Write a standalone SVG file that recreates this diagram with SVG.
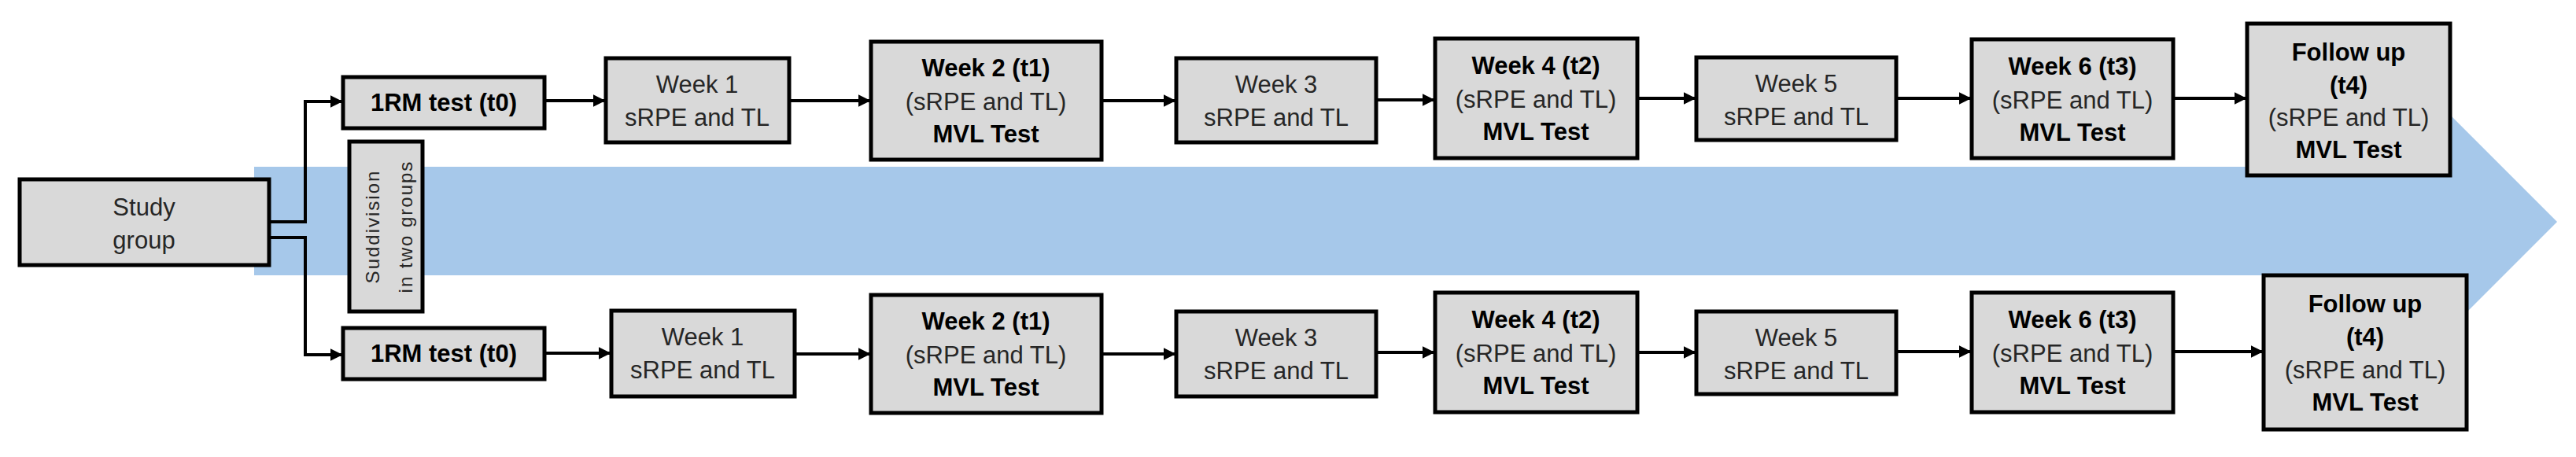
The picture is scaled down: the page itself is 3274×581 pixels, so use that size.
<svg xmlns="http://www.w3.org/2000/svg" width="3274" height="581" viewBox="0 0 3274 581">
<style>
.b{fill:#d9d9d9;stroke:#000;stroke-width:5}
text{font-family:"Liberation Sans",Arial,sans-serif;font-size:31px;text-anchor:middle;fill:#262626}
.bd{font-weight:bold;fill:#000}
.c{fill:none;stroke:#000;stroke-width:4}
</style>
<defs><marker id="a" viewBox="0 0 10 10" refX="9" refY="5" markerWidth="4" markerHeight="4" orient="auto" markerUnits="strokeWidth"><path d="M0,0L10,5L0,10z" fill="#000"/></marker></defs>
<polygon points="323,212 3090,212 3090,122 3250,282 3090,442 3090,350 323,350" fill="#a6c8ea"/>
<g id="study"><rect class="b" x="25" y="228" width="317" height="109"/><text x="183" y="274">Study</text><text x="183" y="316">group</text></g>
<g id="sub"><rect class="b" x="444" y="180" width="93" height="216"/><text transform="translate(482,288) rotate(-90)" style="font-size:24px;letter-spacing:2px">Suddivision</text><text transform="translate(524,288) rotate(-90)" style="font-size:24px;letter-spacing:2px">in two groups</text></g>
<g id="rm1"><rect class="b" x="436" y="98" width="256" height="65"/><text class="bd" x="564" y="141">1RM test (t0)</text></g>
<g id="w1a"><rect class="b" x="770" y="74" width="233" height="107"/><text x="886" y="118">Week 1</text><text x="886" y="160">sRPE and TL</text></g>
<g id="w2a"><rect class="b" x="1107" y="53" width="293" height="150"/><text class="bd" x="1253" y="97">Week 2 (t1)</text><text x="1253" y="140">(sRPE and TL)</text><text class="bd" x="1253" y="181">MVL Test</text></g>
<g id="w3a"><rect class="b" x="1495" y="74" width="254" height="107"/><text x="1622" y="118">Week 3</text><text x="1622" y="160">sRPE and TL</text></g>
<g id="w4a"><rect class="b" x="1824" y="49" width="257" height="152"/><text class="bd" x="1952" y="94">Week 4 (t2)</text><text x="1952" y="137">(sRPE and TL)</text><text class="bd" x="1952" y="178">MVL Test</text></g>
<g id="w5a"><rect class="b" x="2156" y="73" width="254" height="105"/><text x="2283" y="117">Week 5</text><text x="2283" y="159">sRPE and TL</text></g>
<g id="w6a"><rect class="b" x="2506" y="50" width="256" height="151"/><text class="bd" x="2634" y="95">Week 6 (t3)</text><text x="2634" y="138">(sRPE and TL)</text><text class="bd" x="2634" y="179">MVL Test</text></g>
<g id="fua"><rect class="b" x="2856" y="30" width="258" height="193"/><text class="bd" x="2985" y="77">Follow up</text><text class="bd" x="2985" y="119">(t4)</text><text x="2985" y="160">(sRPE and TL)</text><text class="bd" x="2985" y="201">MVL Test</text></g>
<g id="rm2"><rect class="b" x="436" y="417" width="256" height="65"/><text class="bd" x="564" y="460">1RM test (t0)</text></g>
<g id="w1b"><rect class="b" x="777" y="395" width="233" height="109"/><text x="893" y="439">Week 1</text><text x="893" y="481">sRPE and TL</text></g>
<g id="w2b"><rect class="b" x="1107" y="375" width="293" height="150"/><text class="bd" x="1253" y="419">Week 2 (t1)</text><text x="1253" y="462">(sRPE and TL)</text><text class="bd" x="1253" y="503">MVL Test</text></g>
<g id="w3b"><rect class="b" x="1495" y="396" width="254" height="108"/><text x="1622" y="440">Week 3</text><text x="1622" y="482">sRPE and TL</text></g>
<g id="w4b"><rect class="b" x="1824" y="372" width="257" height="152"/><text class="bd" x="1952" y="417">Week 4 (t2)</text><text x="1952" y="460">(sRPE and TL)</text><text class="bd" x="1952" y="501">MVL Test</text></g>
<g id="w5b"><rect class="b" x="2156" y="396" width="254" height="105"/><text x="2283" y="440">Week 5</text><text x="2283" y="482">sRPE and TL</text></g>
<g id="w6b"><rect class="b" x="2506" y="372" width="256" height="152"/><text class="bd" x="2634" y="417">Week 6 (t3)</text><text x="2634" y="460">(sRPE and TL)</text><text class="bd" x="2634" y="501">MVL Test</text></g>
<g id="fub"><rect class="b" x="2877" y="350" width="258" height="196"/><text class="bd" x="3006" y="397">Follow up</text><text class="bd" x="3006" y="439">(t4)</text><text x="3006" y="481">(sRPE and TL)</text><text class="bd" x="3006" y="522">MVL Test</text></g>
<g id="connectors">
<path class="c" marker-end="url(#a)" d="M342,282H388V129H434"/>
<path class="c" marker-end="url(#a)" d="M342,302H388V451H434"/>
<path class="c" marker-end="url(#a)" d="M692,128H768"/>
<path class="c" marker-end="url(#a)" d="M1003,128H1105"/>
<path class="c" marker-end="url(#a)" d="M1400,128H1493"/>
<path class="c" marker-end="url(#a)" d="M1749,127H1822"/>
<path class="c" marker-end="url(#a)" d="M2081,125H2154"/>
<path class="c" marker-end="url(#a)" d="M2410,125H2504"/>
<path class="c" marker-end="url(#a)" d="M2762,125H2854"/>
<path class="c" marker-end="url(#a)" d="M692,449H775"/>
<path class="c" marker-end="url(#a)" d="M1010,450H1105"/>
<path class="c" marker-end="url(#a)" d="M1400,450H1493"/>
<path class="c" marker-end="url(#a)" d="M1749,448H1822"/>
<path class="c" marker-end="url(#a)" d="M2081,448H2154"/>
<path class="c" marker-end="url(#a)" d="M2410,447H2504"/>
<path class="c" marker-end="url(#a)" d="M2762,447H2875"/>
</g>
</svg>
